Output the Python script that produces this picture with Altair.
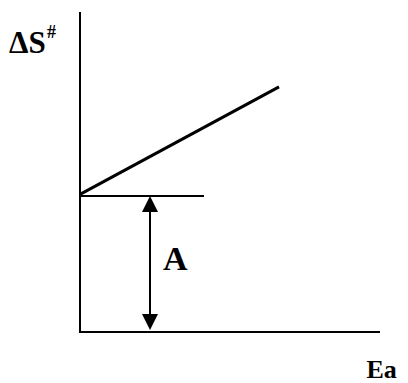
import altair as alt
import pandas as pd

# schematic values (chart units)
axis_x = [0, 0, 12]          # L-shaped axes: x path
axis_y = [10.0, 0, 0]        # y path
trend_x = [0, 7.96]
trend_y = [4.3, 7.66]
level_x = [0, 4.96]
level_y = [4.25, 4.25]
arrow_x = 2.8
arrow_top = 4.2
arrow_bottom = 0.06
labels = ["ΔS", "#", "A", "Ea"]
label_x = [-2.84, -1.32, 3.32, 11.46]
label_y = [8.72, 9.19, 1.94, -1.44]
label_size = [31, 18, 34, 26]

xs = alt.Scale(domain=[-2.88, 12.8], nice=False, zero=False)
ys = alt.Scale(domain=[-1.59375, 10.125], nice=False, zero=False)

axes_df = pd.DataFrame({"x": axis_x, "y": axis_y, "o": range(3)})
axes = alt.Chart(axes_df).mark_line(color="black", strokeWidth=2, clip=False).encode(
    x=alt.X("x:Q", scale=xs, axis=None),
    y=alt.Y("y:Q", scale=ys, axis=None),
    order="o:Q",
)

trend = alt.Chart(pd.DataFrame({"x": trend_x, "y": trend_y})).mark_line(
    color="black", strokeWidth=3).encode(x=alt.X("x:Q", scale=xs), y=alt.Y("y:Q", scale=ys))

level = alt.Chart(pd.DataFrame({"x": level_x, "y": level_y})).mark_line(
    color="black", strokeWidth=2).encode(x=alt.X("x:Q", scale=xs), y=alt.Y("y:Q", scale=ys))

shaft = alt.Chart(pd.DataFrame({"x": [arrow_x], "y": [arrow_bottom + 0.4], "y2": [arrow_top - 0.4]})).mark_rule(
    color="black", strokeWidth=2).encode(x=alt.X("x:Q", scale=xs), y=alt.Y("y:Q", scale=ys), y2="y2:Q")

head_up = alt.Chart(pd.DataFrame({"x": [arrow_x], "y": [arrow_top - 0.2]})).mark_point(
    shape="M0,-1L-1,1L1,1Z", filled=True, color="black", opacity=1, size=256, strokeWidth=0).encode(
    x=alt.X("x:Q", scale=xs), y=alt.Y("y:Q", scale=ys))
head_down = alt.Chart(pd.DataFrame({"x": [arrow_x], "y": [arrow_bottom + 0.25]})).mark_point(
    shape="M0,1L-1,-1L1,-1Z", filled=True, color="black", opacity=1, size=256, strokeWidth=0).encode(
    x=alt.X("x:Q", scale=xs), y=alt.Y("y:Q", scale=ys))

text_df = pd.DataFrame({"t": labels, "x": label_x, "y": label_y, "s": label_size})
texts = alt.Chart(text_df).mark_text(
    align="left", baseline="alphabetic", font="Liberation Serif",
    fontWeight="bold", color="black"
).encode(
    x=alt.X("x:Q", scale=xs), y=alt.Y("y:Q", scale=ys), text="t:N",
    size=alt.Size("s:Q", scale=None, legend=None),
)

chart = alt.layer(axes, trend, level, shaft, head_up, head_down, texts).properties(
    width=392, height=375, autosize=alt.AutoSizeParams(type="none"), padding=0,
    background="white",
).configure_view(strokeWidth=0)

chart.save("out.html", embed_options={"renderer": "svg", "actions": False})
